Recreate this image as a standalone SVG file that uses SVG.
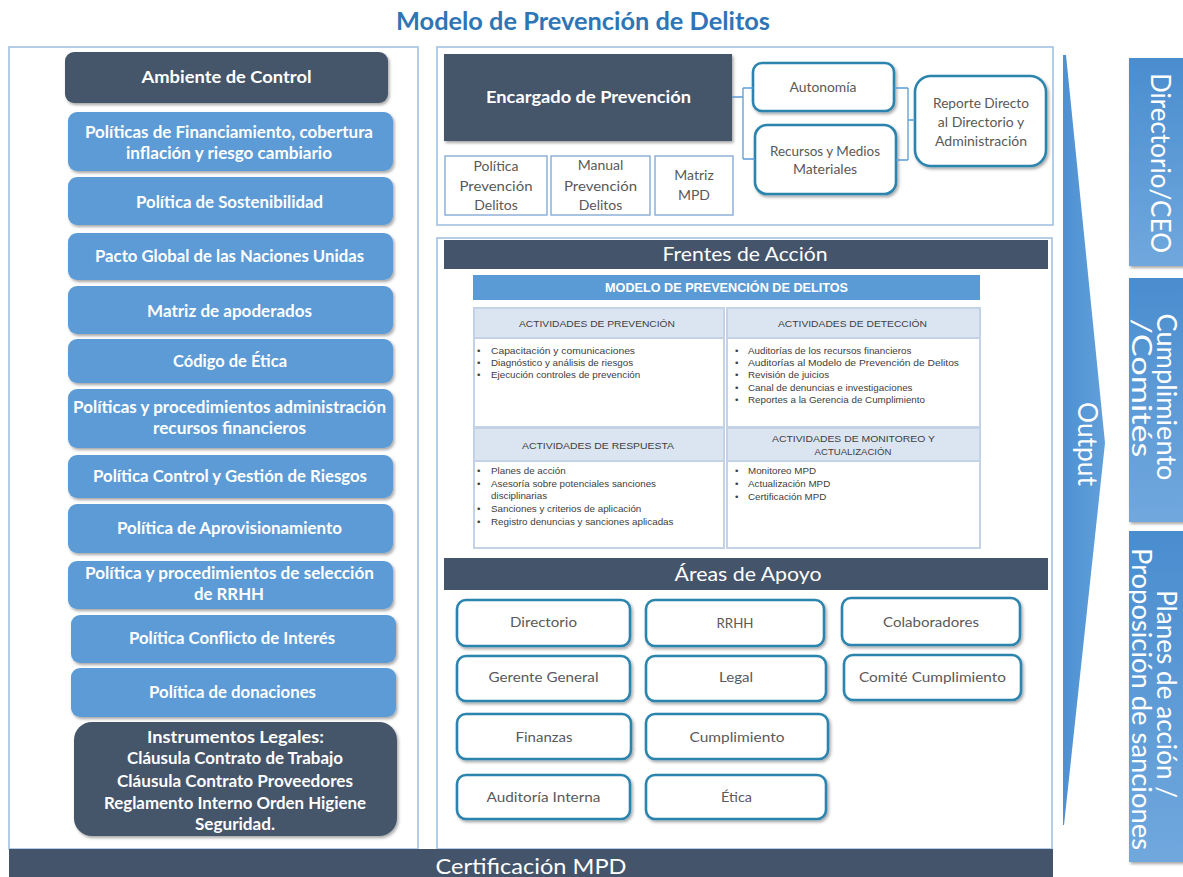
<svg xmlns="http://www.w3.org/2000/svg" width="1183" height="877" viewBox="0 0 1183 877">
<defs>
<style>
.panel{fill:#fff;stroke:#9dbde0;stroke-width:1.5}
.dark{fill:#44546a}
.blue{fill:#5b9bd5}
.wb{font-family:Lato,"Liberation Sans",sans-serif;font-weight:bold;font-size:17px;fill:#fff;text-anchor:middle}
.wr{font-family:Lato,"Liberation Sans",sans-serif;font-size:20px;fill:#fff;text-anchor:middle}
.g{font-family:Lato,"Liberation Sans",sans-serif;font-size:14px;fill:#595959;text-anchor:middle}
.teal{fill:#fff;stroke:#2a84ad;stroke-width:2.6}
.thin{fill:#fff;stroke:#8fb0d8;stroke-width:1.5}
.th{fill:#dbe5f1;stroke:#c3d2e6;stroke-width:2}
.tb{fill:#fff;stroke:#c3d2e6;stroke-width:2}
.ht{font-family:"Liberation Sans",Arial,sans-serif;font-size:9.6px;fill:#404040;text-anchor:middle}
.bt{font-family:"Liberation Sans",Arial,sans-serif;font-size:9.8px;fill:#404040}
.vt{font-family:Lato,"Liberation Sans",sans-serif;font-size:27px;fill:#fff;text-anchor:middle}
.conn{fill:none;stroke:#5b9bd5;stroke-width:1.3}
</style>
<filter id="sh" x="-10%" y="-10%" width="120%" height="130%">
<feDropShadow dx="1.5" dy="2" stdDeviation="1.5" flood-color="#000" flood-opacity="0.35"/>
</filter>
<linearGradient id="vg" x1="0" y1="0" x2="0" y2="1">
<stop offset="0" stop-color="#4a8dcf"/>
<stop offset="1" stop-color="#70a8dd"/>
</linearGradient>
<linearGradient id="ag" x1="0" y1="0" x2="1" y2="0">
<stop offset="0" stop-color="#4d90d2"/>
<stop offset="1" stop-color="#62a0da"/>
</linearGradient>
</defs>
<rect width="1183" height="877" fill="#fff"/>

<text x="583" y="30" text-anchor="middle" font-family="Lato,'Liberation Sans',sans-serif" font-weight="bold" font-size="24" fill="#2e75b6" textLength="374" lengthAdjust="spacingAndGlyphs">Modelo de Prevención de Delitos</text>

<!-- Left panel -->
<g id="left-panel">
<rect class="panel" x="9" y="47" width="409" height="802"/>
</g>
<g id="ambiente"><rect class="dark" filter="url(#sh)" x="65" y="52" width="323" height="51" rx="9"/><text class="wb" x="226.5" y="83" textLength="170" lengthAdjust="spacingAndGlyphs">Ambiente de Control</text></g>
<g id="p-financiamiento"><rect class="blue" filter="url(#sh)" x="68" y="112" width="325" height="59" rx="9"/><text class="wb" x="229" y="138" textLength="288" lengthAdjust="spacingAndGlyphs">Políticas de Financiamiento, cobertura</text><text class="wb" x="229" y="159" textLength="206" lengthAdjust="spacingAndGlyphs">inflación y riesgo cambiario</text></g>
<g id="p-sostenibilidad"><rect class="blue" filter="url(#sh)" x="68" y="177" width="325" height="48" rx="9"/><text class="wb" x="229.5" y="208" textLength="187" lengthAdjust="spacingAndGlyphs">Política de Sostenibilidad</text></g>
<g id="p-pacto"><rect class="blue" filter="url(#sh)" x="68" y="233" width="325" height="47" rx="9"/><text class="wb" x="229.5" y="262" textLength="269" lengthAdjust="spacingAndGlyphs">Pacto Global de las Naciones Unidas</text></g>
<g id="p-matriz"><rect class="blue" filter="url(#sh)" x="68" y="286" width="325" height="48" rx="9"/><text class="wb" x="229.5" y="317" textLength="165" lengthAdjust="spacingAndGlyphs">Matriz de apoderados</text></g>
<g id="p-codigo"><rect class="blue" filter="url(#sh)" x="68" y="339" width="325" height="44" rx="9"/><text class="wb" x="230" y="367" textLength="114" lengthAdjust="spacingAndGlyphs">Código de Ética</text></g>
<g id="p-recursos"><rect class="blue" filter="url(#sh)" x="68" y="389" width="325" height="59" rx="9"/><text class="wb" x="229.5" y="413" textLength="313" lengthAdjust="spacingAndGlyphs">Políticas y procedimientos administración</text><text class="wb" x="229.5" y="434" textLength="153" lengthAdjust="spacingAndGlyphs">recursos  financieros</text></g>
<g id="p-control"><rect class="blue" filter="url(#sh)" x="68" y="455" width="325" height="43" rx="9"/><text class="wb" x="230" y="482" textLength="274" lengthAdjust="spacingAndGlyphs">Política Control y Gestión de Riesgos</text></g>
<g id="p-aprov"><rect class="blue" filter="url(#sh)" x="68" y="504" width="325" height="49" rx="9"/><text class="wb" x="229.5" y="534" textLength="225" lengthAdjust="spacingAndGlyphs">Política de Aprovisionamiento</text></g>
<g id="p-seleccion"><rect class="blue" filter="url(#sh)" x="68" y="561" width="325" height="48" rx="9"/><text class="wb" x="229.5" y="579" textLength="289" lengthAdjust="spacingAndGlyphs">Política y procedimientos  de selección</text><text class="wb" x="229" y="600" textLength="70" lengthAdjust="spacingAndGlyphs">de  RRHH</text></g>
<g id="p-conflicto"><rect class="blue" filter="url(#sh)" x="71" y="615" width="325" height="48" rx="9"/><text class="wb" x="232" y="644" textLength="206" lengthAdjust="spacingAndGlyphs">Política Conflicto de Interés</text></g>
<g id="p-donaciones"><rect class="blue" filter="url(#sh)" x="71" y="668" width="325" height="49" rx="9"/><text class="wb" x="232.5" y="698" textLength="167" lengthAdjust="spacingAndGlyphs">Política de donaciones</text></g>
<g id="instrumentos"><rect class="dark" filter="url(#sh)" x="74" y="722" width="323" height="114" rx="18"/>
<text class="wb" x="235.5" y="743" textLength="177" lengthAdjust="spacingAndGlyphs">Instrumentos Legales:</text>
<text class="wb" x="235" y="764" textLength="216" lengthAdjust="spacingAndGlyphs">Cláusula Contrato de Trabajo</text>
<text class="wb" x="235" y="787" textLength="236" lengthAdjust="spacingAndGlyphs">Cláusula Contrato  Proveedores</text>
<text class="wb" x="235" y="809" textLength="262" lengthAdjust="spacingAndGlyphs">Reglamento Interno Orden Higiene</text>
<text class="wb" x="235" y="830" textLength="80" lengthAdjust="spacingAndGlyphs">Seguridad.</text></g>

<!-- Top middle panel -->
<g id="top-panel"><rect class="panel" x="437" y="47" width="616" height="178"/></g>
<g id="encargado"><rect class="dark" filter="url(#sh)" x="444" y="54" width="288" height="87"/><text class="wb" x="588.5" y="103" textLength="205" lengthAdjust="spacingAndGlyphs">Encargado de Prevención</text></g>
<g id="politica-pd"><rect class="thin" x="445" y="156" width="102" height="59"/><text class="g" x="496" y="171">Política</text><text class="g" x="496" y="191" textLength="73" lengthAdjust="spacingAndGlyphs">Prevención</text><text class="g" x="496" y="210">Delitos</text></g>
<g id="manual-pd"><rect class="thin" x="551" y="156" width="99" height="59"/><text class="g" x="600.5" y="170">Manual</text><text class="g" x="600.5" y="191" textLength="73" lengthAdjust="spacingAndGlyphs">Prevención</text><text class="g" x="600.5" y="210">Delitos</text></g>
<g id="matriz-mpd"><rect class="thin" x="655" y="156" width="78" height="59"/><text class="g" x="694" y="180">Matriz</text><text class="g" x="694" y="200">MPD</text></g>
<g id="autonomia"><rect class="teal" filter="url(#sh)" x="753" y="63" width="141" height="48" rx="9"/><text class="g" x="823" y="92" textLength="67" lengthAdjust="spacingAndGlyphs">Autonomía</text></g>
<g id="recursos-medios"><rect class="teal" filter="url(#sh)" x="755" y="125" width="141" height="69" rx="12"/><text class="g" x="825" y="156" textLength="110" lengthAdjust="spacingAndGlyphs">Recursos y Medios</text><text class="g" x="825" y="174">Materiales</text></g>
<g id="reporte"><rect class="teal" filter="url(#sh)" x="915" y="76" width="131" height="90" rx="16"/><text class="g" x="981" y="108" textLength="96" lengthAdjust="spacingAndGlyphs">Reporte Directo</text><text class="g" x="981" y="127">al Directorio y</text><text class="g" x="981" y="146">Administración</text></g>

<!-- Frentes panel -->
<g id="frentes-panel"><rect class="panel" x="437" y="238" width="615" height="611"/></g>
<g id="frentes-bar"><rect class="dark" x="444" y="240" width="604" height="29"/><text class="wr" x="745" y="261" textLength="165" lengthAdjust="spacingAndGlyphs">Frentes de Acción</text></g>
<g id="modelo-table">
<rect class="blue" x="473" y="275" width="507" height="25"/>
<text x="726.5" y="292" text-anchor="middle" font-family="'Liberation Sans',Arial,sans-serif" font-weight="bold" font-size="12" fill="#fff" textLength="243" lengthAdjust="spacingAndGlyphs">MODELO DE PREVENCIÓN DE DELITOS</text>
<rect class="th" x="474" y="308" width="250" height="30"/>
<rect class="th" x="727" y="308" width="253" height="30"/>
<rect class="tb" x="474" y="338" width="250" height="89"/>
<rect class="tb" x="727" y="338" width="253" height="89"/>
<rect class="th" x="474" y="428" width="250" height="33"/>
<rect class="th" x="727" y="428" width="253" height="33"/>
<rect class="tb" x="474" y="461" width="250" height="87"/>
<rect class="tb" x="727" y="461" width="253" height="87"/>
<text class="ht" x="597" y="327" textLength="156" lengthAdjust="spacingAndGlyphs">ACTIVIDADES DE PREVENCIÓN</text>
<text class="ht" x="852.5" y="327" textLength="149" lengthAdjust="spacingAndGlyphs">ACTIVIDADES DE DETECCIÓN</text>
<text class="ht" x="598" y="448.5" textLength="152" lengthAdjust="spacingAndGlyphs">ACTIVIDADES DE RESPUESTA</text>
<text class="ht" x="853.5" y="442" textLength="163" lengthAdjust="spacingAndGlyphs">ACTIVIDADES DE MONITOREO Y</text>
<text class="ht" x="853" y="455">ACTUALIZACIÓN</text>
<g class="bt">
<text x="477" y="353.5">•</text><text x="491" y="353.5" textLength="144" lengthAdjust="spacingAndGlyphs">Capacitación y comunicaciones</text>
<text x="477" y="365.5">•</text><text x="491" y="365.5">Diagnóstico y análisis de riesgos</text>
<text x="477" y="378">•</text><text x="491" y="378">Ejecución controles de prevención</text>
<text x="735" y="353.5">•</text><text x="748" y="353.5">Auditorías de los recursos financieros</text>
<text x="735" y="365.5">•</text><text x="748" y="365.5" textLength="211" lengthAdjust="spacingAndGlyphs">Auditorías al Modelo de Prevención de Delitos</text>
<text x="735" y="378">•</text><text x="748" y="378">Revisión de juicios</text>
<text x="735" y="390.5">•</text><text x="748" y="390.5">Canal de denuncias e investigaciones</text>
<text x="735" y="403">•</text><text x="748" y="403">Reportes a la Gerencia de Cumplimiento</text>
<text x="477" y="473.5">•</text><text x="491" y="473.5">Planes de acción</text>
<text x="477" y="487">•</text><text x="491" y="487">Asesoría sobre potenciales sanciones</text>
<text x="491" y="499">disciplinarias</text>
<text x="477" y="511.5">•</text><text x="491" y="511.5">Sanciones y criterios de aplicación</text>
<text x="477" y="525">•</text><text x="491" y="525">Registro denuncias y sanciones aplicadas</text>
<text x="735" y="473.5">•</text><text x="748" y="473.5">Monitoreo MPD</text>
<text x="735" y="487">•</text><text x="748" y="487">Actualización MPD</text>
<text x="735" y="499.5">•</text><text x="748" y="499.5">Certificación MPD</text>
</g>
</g>
<g id="areas-bar"><rect class="dark" x="444" y="558" width="604" height="32"/><text class="wr" x="748" y="581" textLength="147" lengthAdjust="spacingAndGlyphs">Áreas de Apoyo</text></g>
<g id="a-directorio"><rect class="teal" filter="url(#sh)" x="457" y="600" width="173" height="46" rx="9"/><text class="g" x="543.5" y="627" textLength="67" lengthAdjust="spacingAndGlyphs">Directorio</text></g>
<g id="a-rrhh"><rect class="teal" filter="url(#sh)" x="646" y="600" width="178" height="46" rx="9"/><text class="g" x="735" y="628" textLength="37" lengthAdjust="spacingAndGlyphs">RRHH</text></g>
<g id="a-colaboradores"><rect class="teal" filter="url(#sh)" x="842" y="598" width="178" height="47" rx="9"/><text class="g" x="931" y="627" textLength="96" lengthAdjust="spacingAndGlyphs">Colaboradores</text></g>
<g id="a-gerente"><rect class="teal" filter="url(#sh)" x="457" y="656" width="173" height="45" rx="9"/><text class="g" x="543.5" y="682" textLength="110" lengthAdjust="spacingAndGlyphs">Gerente General</text></g>
<g id="a-legal"><rect class="teal" filter="url(#sh)" x="646" y="656" width="180" height="45" rx="9"/><text class="g" x="736" y="682" textLength="34" lengthAdjust="spacingAndGlyphs">Legal</text></g>
<g id="a-comite"><rect class="teal" filter="url(#sh)" x="844" y="655" width="177" height="45" rx="9"/><text class="g" x="932.5" y="682" textLength="147" lengthAdjust="spacingAndGlyphs">Comité Cumplimiento</text></g>
<g id="a-finanzas"><rect class="teal" filter="url(#sh)" x="457" y="714" width="174" height="45" rx="9"/><text class="g" x="544" y="742" textLength="57" lengthAdjust="spacingAndGlyphs">Finanzas</text></g>
<g id="a-cumplimiento"><rect class="teal" filter="url(#sh)" x="646" y="714" width="182" height="45" rx="9"/><text class="g" x="737" y="742" textLength="95" lengthAdjust="spacingAndGlyphs">Cumplimiento</text></g>
<g id="a-auditoria"><rect class="teal" filter="url(#sh)" x="457" y="775" width="173" height="44" rx="9"/><text class="g" x="543.5" y="802" textLength="114" lengthAdjust="spacingAndGlyphs">Auditoría Interna</text></g>
<g id="a-etica"><rect class="teal" filter="url(#sh)" x="646" y="775" width="180" height="44" rx="9"/><text class="g" x="736.5" y="802" textLength="31" lengthAdjust="spacingAndGlyphs">Ética</text></g>

<!-- Certification bar -->
<g id="certificacion"><rect class="dark" x="9" y="849" width="1044" height="28"/><text x="531" y="874" text-anchor="middle" font-family="Lato,'Liberation Sans',sans-serif" font-size="22" fill="#fff" textLength="191" lengthAdjust="spacingAndGlyphs">Certificación MPD</text></g>

<!-- Output arrow -->
<g id="output"><polygon points="1063,55 1066,55 1105,443 1064,825 1063,825" fill="url(#ag)"/><text class="vt" font-size="24" transform="translate(1078,444) rotate(90)" textLength="84" lengthAdjust="spacingAndGlyphs">Output</text></g>

<!-- Right vertical boxes -->
<g id="r-directorio"><rect filter="url(#sh)" x="1129" y="58" width="60" height="208" fill="url(#vg)"/><text class="vt" transform="translate(1151,163) rotate(90)" textLength="180" lengthAdjust="spacingAndGlyphs">Directorio/CEO</text></g>
<g id="r-cumplimiento"><rect filter="url(#sh)" x="1129" y="278" width="60" height="244" fill="url(#vg)"/><text class="vt" font-size="23" transform="translate(1157,397) rotate(90)" textLength="167" lengthAdjust="spacingAndGlyphs">Cumplimiento</text><text class="vt" font-size="23" transform="translate(1132,388) rotate(90)" textLength="139" lengthAdjust="spacingAndGlyphs">/Comités</text></g>
<g id="r-planes"><rect filter="url(#sh)" x="1129" y="531" width="60" height="331" fill="url(#vg)"/><text class="vt" font-size="23" transform="translate(1157,694) rotate(90)" textLength="208" lengthAdjust="spacingAndGlyphs">Planes de acción /</text><text class="vt" font-size="23" transform="translate(1132,699) rotate(90)" textLength="302" lengthAdjust="spacingAndGlyphs">Proposición de sanciones</text></g>

<!-- Connectors -->
<g id="connectors">
<path class="conn" d="M732,97 H743 M743,88 V159 M743,88 H753 M743,159 H755"/>
<path class="conn" d="M894,88 H908 M896,160 H908 M908,88 V160 M908,120 H915"/>
</g>
</svg>
